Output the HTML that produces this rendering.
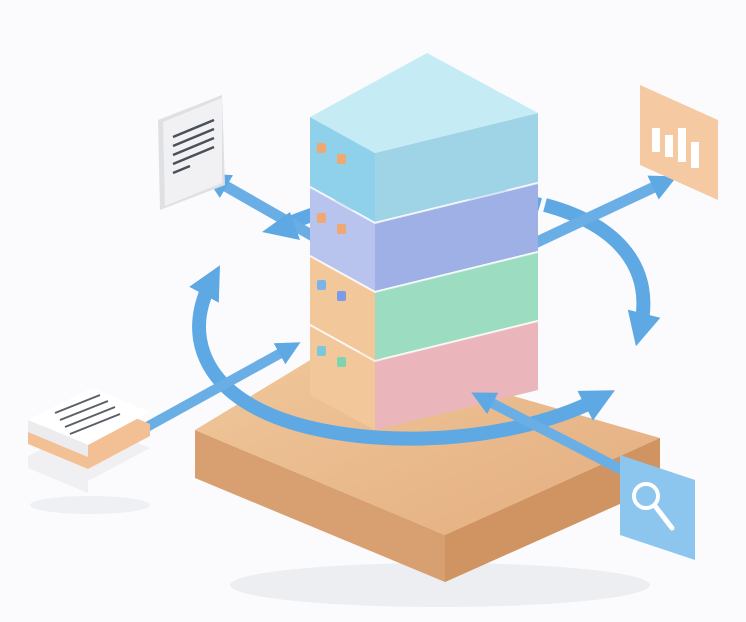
<!DOCTYPE html>
<html><head><meta charset="utf-8"><style>
html,body{margin:0;padding:0;background:#fbfbfd;}
svg{display:block;}
</style></head><body>
<svg width="746" height="622" viewBox="0 0 746 622" xmlns="http://www.w3.org/2000/svg">
<defs>
<marker id="ah" viewBox="0 0 10 10" refX="5" refY="5" markerWidth="2.4" markerHeight="2.4" orient="auto-start-reverse" markerUnits="strokeWidth">
<path d="M0,0 L10,5 L0,10 Z" fill="#5ea9e3"/></marker>
<linearGradient id="bt" x1="0" y1="0" x2="1" y2="1"><stop offset="0" stop-color="#f0c89c"/><stop offset="1" stop-color="#e3ad7e"/></linearGradient>
</defs>
<rect width="746" height="622" fill="#fbfbfd"/>
<ellipse cx="440" cy="585" rx="210" ry="22" fill="#eceef2"/>
<ellipse cx="90" cy="505" rx="60" ry="9" fill="#eef0f3"/>
<!-- base platform -->
<polygon points="195,430 195,478 445,582 660,486 660,438 445,535" fill="#d8a070"/>
<polygon points="445,535 445,582 660,486 660,438" fill="#cf9462"/>
<polygon points="195,430 335,345 660,438 445,535" fill="url(#bt)"/>
<!-- ring back arc -->
<path d="M285,225 Q420,170 540,205" fill="none" stroke="#5ea9e3" stroke-width="14"/>
<path d="M545,205 C620,225 655,270 640,330" fill="none" stroke="#5ea9e3" stroke-width="14" marker-end="url(#ah)"/>
<!-- arrows behind stack -->
<line x1="320" y1="240" x2="215" y2="180" stroke="#6aaee6" stroke-width="11" marker-end="url(#ah)"/>
<line x1="520" y1="250" x2="665" y2="182" stroke="#6aaee6" stroke-width="11" marker-end="url(#ah)"/>
<polygon points="262,232 290,212 300,240" fill="#5ea9e3"/>
<!-- server stack -->
<g>
<polygon points="310,325 375,361 375,430 310,395" fill="#f2c79a"/>
<polygon points="375,361 538,321 538,390 375,430" fill="#eab6bb"/>
<polygon points="310,256 375,292 375,360 310,324" fill="#f2c79a"/>
<polygon points="375,292 538,252 538,320 375,360" fill="#9cdcc0"/>
<polygon points="310,187 375,223 375,291 310,255" fill="#b9c4ee"/>
<polygon points="375,223 538,183 538,251 375,291" fill="#9fb0e6"/>
<polygon points="310,117 375,153 375,222 310,186" fill="#8fd1ea"/>
<polygon points="375,153 538,113 538,182 375,222" fill="#9fd3e6"/>
<polygon points="310,117 427,53 538,113 375,153" fill="#c5ebf5"/>
<g stroke="#ffffff" stroke-opacity="0.7" stroke-width="2" fill="none">
<polyline points="310,187 375,223 538,183"/><polyline points="310,256 375,292 538,252"/><polyline points="310,325 375,361 538,321"/>
</g>
<rect x="317" y="143" width="9" height="10" rx="2" fill="#f0a872"/><rect x="337" y="154" width="9" height="10" rx="2" fill="#f0a872"/>
<rect x="317" y="213" width="9" height="10" rx="2" fill="#f0a872"/><rect x="337" y="224" width="9" height="10" rx="2" fill="#f0a872"/>
<rect x="317" y="280" width="9" height="10" rx="2" fill="#7cb4ea"/><rect x="337" y="291" width="9" height="10" rx="2" fill="#7c9cea"/>
<rect x="317" y="346" width="9" height="10" rx="2" fill="#7cc8da"/><rect x="337" y="357" width="9" height="10" rx="2" fill="#7cd4b0"/>
</g>
<!-- ring front arc -->
<path d="M212,280 C185,330 200,380 260,410 C340,450 500,450 600,398" fill="none" stroke="#5ea9e3" stroke-width="14" marker-start="url(#ah)" marker-end="url(#ah)"/>
<!-- front arrows -->
<line x1="145" y1="428" x2="290" y2="348" stroke="#6aaee6" stroke-width="10" marker-end="url(#ah)"/>
<line x1="630" y1="474" x2="482" y2="398" stroke="#6aaee6" stroke-width="10" marker-end="url(#ah)"/>
<!-- upper-left doc -->
<polygon points="158,120 222,95 225,185 160,210" fill="#dfe0e4"/>
<polygon points="163,122 222,98 222,183 165,206" fill="#f1f1f3"/>
<g stroke="#4a4f5c" stroke-width="2.5"><line x1="173" y1="137" x2="214" y2="120"/><line x1="173" y1="146" x2="214" y2="129"/><line x1="173" y1="155" x2="214" y2="138"/><line x1="173" y1="164" x2="214" y2="147"/><line x1="173" y1="173" x2="190" y2="166"/></g>
<!-- upper-right chart -->
<polygon points="640,85 718,120 718,200 640,165" fill="#f5c9a2"/>
<g fill="#fff"><rect x="652" y="128" width="8" height="24"/><rect x="665" y="135" width="8" height="22"/><rect x="678" y="128" width="8" height="34"/><rect x="691" y="142" width="8" height="26"/></g>
<!-- lower-left doc stack -->
<polygon points="28,456 92,424 150,448 88,481 88,493 28,468" fill="#f0f0f2"/>
<polygon points="28,444 92,412 150,436 88,469" fill="#ffffff"/>
<polygon points="28,432 92,400 150,424 150,436 88,469 28,444" fill="#f3c096"/>
<polygon points="28,420 92,388 150,412 88,445" fill="#ffffff"/>
<polygon points="28,420 88,445 88,457 28,432" fill="#ececef"/>
<g stroke="#5a5f6a" stroke-width="2"><line x1="55" y1="413" x2="100" y2="395"/><line x1="60" y1="420" x2="108" y2="401"/><line x1="65" y1="427" x2="115" y2="407"/><line x1="70" y1="434" x2="120" y2="414"/></g>
<!-- search icon -->
<polygon points="620,455 695,480 695,560 620,535" fill="#8cc6ee"/>
<circle cx="646" cy="496" r="12" fill="none" stroke="#fff" stroke-width="4"/>
<line x1="655" y1="506" x2="672" y2="528" stroke="#fff" stroke-width="5" stroke-linecap="round"/>
</svg>
</body></html>
